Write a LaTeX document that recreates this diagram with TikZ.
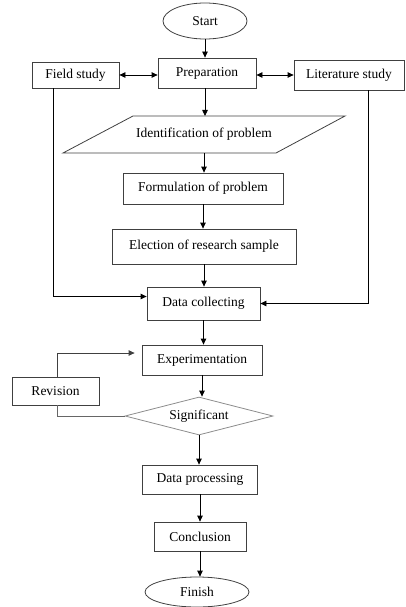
\documentclass[tikz,border=0pt]{standalone}
\usepackage{fontspec}
\setmainfont{Liberation Serif}
\usetikzlibrary{shapes.geometric,arrows.meta,calc}
\begin{document}
\begin{tikzpicture}[x=1pt,y=-1pt,
  font=\fontsize{13.5}{15}\selectfont,
  box/.style={draw=black!75, line width=0.8pt, minimum height=30pt, inner sep=2pt},
  oval/.style={draw=black!75, line width=0.8pt, ellipse, inner sep=1pt},
  arr/.style={-{Triangle[length=6pt,width=5.5pt]}, line width=0.8pt},
  darr/.style={{Triangle[length=6pt,width=5.5pt]}-{Triangle[length=6pt,width=5.5pt]}, line width=0.8pt},
  ln/.style={line width=0.8pt, draw=black!75}]
\useasboundingbox (0,0) rectangle (405,607);
\node[oval, minimum width=84pt, minimum height=36pt] (start) at (205,21) {Start};
\node[box, minimum width=98pt] (prep) at (207,73) {Preparation};
\node[box, minimum width=87pt, minimum height=26pt] (field) at (75.5,75) {Field study};
\node[box, minimum width=110pt] (lit) at (349,75) {Literature study};
\node[minimum width=142pt, minimum height=37pt, inner sep=0pt] (ident) at (204,134.5) {Identification of problem};
\draw[ln] ($(ident.center)+(-71,-18.5)$) -- ($(ident.center)+(141,-18.5)$) -- ($(ident.center)+(72,18.5)$) -- ($(ident.center)+(-141,18.5)$) -- cycle;
\node[box, minimum width=160pt, minimum height=31pt] (form) at (203,188.5) {Formulation of problem};
\node[box, minimum width=184pt, minimum height=35pt] (elec) at (204,246.5) {Election of research sample};
\node[box, minimum width=113pt, minimum height=33pt] (data) at (203.5,303.5) {Data collecting};
\node[box, minimum width=120pt] (exp) at (202,360) {Experimentation};
\node[box, minimum width=87pt, minimum height=28pt] (rev) at (55.5,391) {Revision};
\node[diamond, draw=black!45, line width=0.8pt, minimum width=148pt, minimum height=38pt, aspect=3.9, inner sep=0pt] (sig) at (199,416) {Significant};
\node[box, minimum width=115pt, minimum height=29pt] (proc) at (200,479.5) {Data processing};
\node[box, minimum width=92pt, minimum height=29pt] (conc) at (200,536.5) {Conclusion};
\node[oval, minimum width=104pt, minimum height=30pt] (fin) at (197,592) {Finish};

\draw[arr] (start) -- (start |- prep.north);
\draw[darr] (field.east) -- (prep.west |- field.east);
\draw[darr] (prep.east |- lit.west) -- (lit.west);
\draw[arr] (prep.south -| 205,0) -- (205,116);
\draw[arr] (204,153) -- (form.north -| 204,0);
\draw[arr] (form) -- (form |- elec.north);
\draw[arr] (elec) -- (elec |- data.north);
\draw[arr] ([xshift=-22pt]field.south) |- ([yshift=7pt]data.west);
\draw[arr] ([xshift=19pt]lit.south) |- (data.east);
\draw[arr] (data) -- (data |- exp.north);
\draw[arr] (exp) -- (exp |- sig.north);
\draw[ln, draw=black!60] (sig.west) -| ([xshift=1.5pt]rev.south);
\draw[arr, draw=black!75, shorten >=7pt] ([xshift=1.5pt]rev.north) |- ([yshift=7pt]exp.west);
\draw[arr] (sig.south) -- (sig.south |- proc.north);
\draw[arr] (proc) -- (proc |- conc.north);
\draw[arr] (conc) -- (conc |- fin.north);
\end{tikzpicture}
\end{document}
